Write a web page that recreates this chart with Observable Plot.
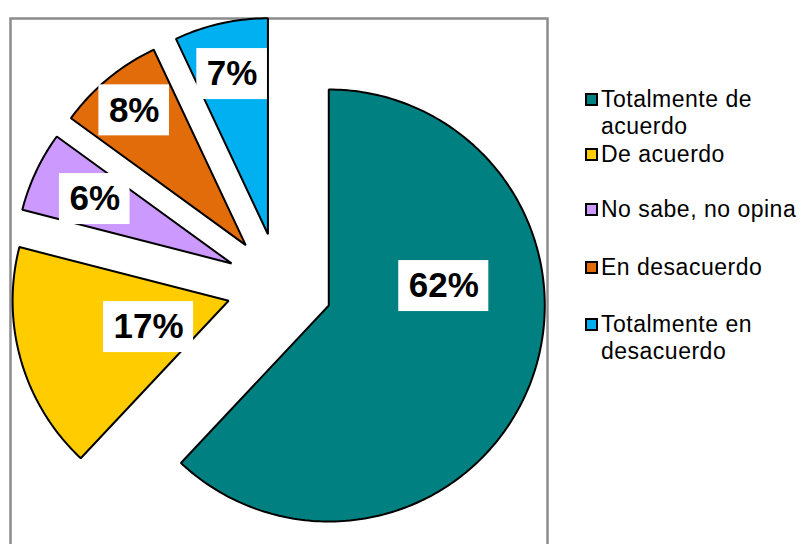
<!DOCTYPE html>
<html>
<head>
<meta charset="utf-8">
<script src="https://cdn.jsdelivr.net/npm/d3@7"></script>
<script src="https://cdn.jsdelivr.net/npm/@observablehq/plot@0.6"></script>
<style>
  html, body { margin: 0; padding: 0; background: #fff; }
  #wrap { position: relative; width: 802px; height: 544px; overflow: hidden; }
  #legend { position: absolute; left: 0; top: 0; width: 802px; height: 544px; pointer-events: none;
            font-family: Arial, "Liberation Sans", sans-serif; font-size: 23px; letter-spacing: 0.5px; color: #000; }
  .entry { position: absolute; left: 601px; width: 201px; line-height: 27px; }
  .sw { position: absolute; left: 585px; width: 13px; height: 13px; box-sizing: border-box; border: 2px solid #000; }
</style>
</head>
<body>
<div id="wrap"><div id="legend"></div></div>
<script>
// ---- data ----
const categories = ["Totalmente de acuerdo", "De acuerdo", "No sabe, no opina", "En desacuerdo", "Totalmente en desacuerdo"];
const values = [62, 17, 6, 8, 7];
const labels = ["62%", "17%", "6%", "8%", "7%"];
const colors = ["#008080", "#FFCC00", "#CC99FF", "#E36C0A", "#00B0F0"];

// ---- layout (pixels) ----
const W = 802, H = 544;
const R = 216;                 // pie radius in px
const cx = 279, cy = 285.5;    // pie center in px
const explode = 53 / R;        // explosion distance (in radius units)
const frame = {left: 10, top: 18, right: 547};
// label placement: distance (radius units) from slice apex, optional bearing override (deg)
const labelLayout = [{d: 0.54, b: 80.4}, {d: 0.39, b: 251.8}, {d: 0.70}, {d: 0.81}, {d: 0.76}];

const total = d3.sum(values);
const slices = [];
const labelRows = [];
const ctx = document.createElement("canvas").getContext("2d");
ctx.font = "bold 35px Arial, 'Liberation Sans', sans-serif";
let acc = 0;
values.forEach((v, i) => {
  const a0 = acc / total * 2 * Math.PI;
  acc += v;
  const a1 = acc / total * 2 * Math.PI;
  const mid = (a0 + a1) / 2;
  const ax = explode * Math.sin(mid), ay = explode * Math.cos(mid);
  const pts = [{x: ax, y: ay, c: categories[i]}];
  const n = Math.max(8, Math.ceil((a1 - a0) / (Math.PI / 180)));
  for (let k = 0; k <= n; k++) {
    const t = a0 + (a1 - a0) * k / n;
    pts.push({x: ax + Math.sin(t), y: ay + Math.cos(t), c: categories[i]});
  }
  slices.push({pts, color: colors[i]});
  const L = labelLayout[i];
  const b = L.b !== undefined ? L.b * Math.PI / 180 : mid;
  const lx = ax + L.d * Math.sin(b), ly = ay + L.d * Math.cos(b);
  const w = (ctx.measureText(labels[i]).width + 20) / R;
  const h = 51 / R;
  labelRows.push({x: lx, y: ly, x1: lx - w / 2, x2: lx + w / 2, y1: ly - h / 2, y2: ly + h / 2, text: labels[i]});
});

const chart = Plot.plot({
  width: W,
  height: H,
  marginLeft: frame.left,
  marginTop: frame.top,
  marginRight: W - frame.right,
  marginBottom: 0,
  x: {domain: [(frame.left - cx) / R, (frame.right - cx) / R], axis: null},
  y: {domain: [(cy - H) / R, (cy - frame.top) / R], axis: null},
  style: {background: "white", overflow: "hidden"},
  marks: [
    Plot.frame({stroke: "#8c8c8c", strokeWidth: 2.5, insetBottom: -20}),
    ...slices.map(s => Plot.line(s.pts, {x: "x", y: "y", fill: s.color, stroke: "#000", strokeWidth: 2,
                                          curve: "linear-closed", strokeLinejoin: "miter"})),
    Plot.rect(labelRows, {x1: "x1", x2: "x2", y1: "y1", y2: "y2", fill: "white"}),
    Plot.text(labelRows, {x: "x", y: "y", text: "text", fontSize: 35, fontWeight: "bold",
                          fontFamily: "Arial, 'Liberation Sans', sans-serif", fill: "#000"})
  ]
});
document.getElementById("wrap").prepend(chart);

// ---- legend ----
const baselines = [107, 162, 217, 275, 332];
const legend = d3.select("#legend");
categories.forEach((c, i) => {
  legend.append("div").attr("class", "sw")
    .style("top", (baselines[i] - 14) + "px")
    .style("background", colors[i]);
  legend.append("div").attr("class", "entry")
    .style("top", (baselines[i] - 21.5) + "px")
    .text(c);
});
</script>
</body>
</html>
